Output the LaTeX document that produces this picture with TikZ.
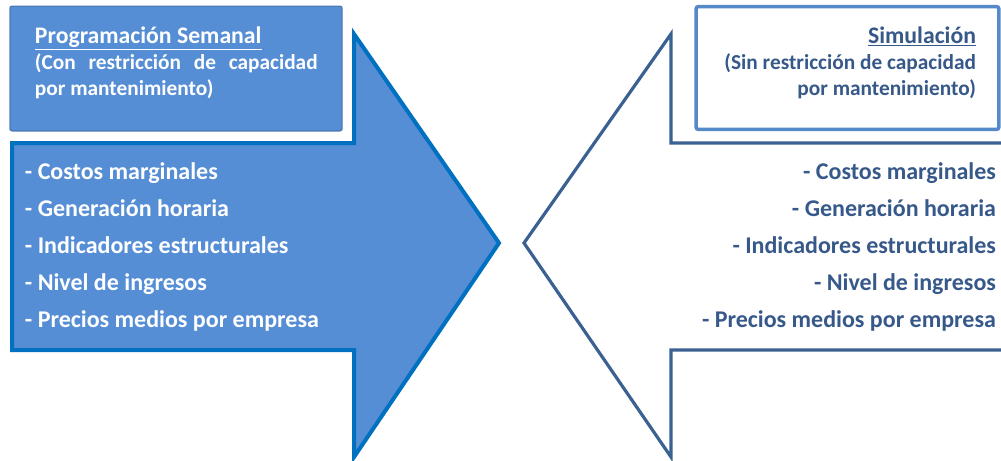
\documentclass[tikz,border=0pt]{standalone}
\usepackage{fontspec}
\setmainfont{Carlito}
\definecolor{progfill}{HTML}{558ED5}
\definecolor{progedge}{HTML}{0070C0}
\definecolor{progbox}{HTML}{4A7EBB}
\definecolor{simedge}{HTML}{3A6192}
\definecolor{simbox}{HTML}{5689C8}
\definecolor{simtext}{HTML}{36598A}
\begin{document}
\begin{tikzpicture}[x=0.75pt,y=-0.75pt,inner sep=0pt,outer sep=0pt,
titlebox/.style={draw,rectangle,rounded corners=1.5pt,minimum width=249pt,minimum height=93.5pt},
titletext/.style={font=\bfseries\fontsize{16}{19.5}\selectfont},
listtext/.style={font=\bfseries\fontsize{18}{27.75}\selectfont}]
\useasboundingbox (0,0) rectangle (1001,461);

% flechas
\draw[line width=3pt,draw=progedge,fill=progfill,line join=miter]
  (12,143) -- (354,143) -- (354,34) -- (499,243) -- (354,457) -- (354,350) -- (12,350) -- cycle;
\draw[line width=2.4pt,draw=simedge,line join=miter]
  (1004,143) -- (671,143) -- (671,34) -- (524,243) -- (671,457) -- (671,350) -- (1004,350);

% cajas de titulo
\node[titlebox,fill=progfill,draw=progbox,line width=1pt] (progbox) at (176,68.5) {};
\node[titlebox,fill=white,draw=simbox,line width=2.6pt,minimum width=227pt,minimum height=92pt] (simbox) at (847.5,68) {};

\node[titletext,text=white,anchor=north west,align=left] (progtitle) at (35,27)
  {{\fontsize{17.8}{19.5}\selectfont\underline{Programación Semanal}}\\
   \makebox[212pt][s]{(Con restricción de capacidad}\\
   por mantenimiento)};
\node[titletext,text=simtext,anchor=north east,align=right] (simtitle) at (976,27)
  {{\fontsize{17.8}{19.5}\selectfont\underline{Simulación}}\\
   (Sin restricción de capacidad\\
   por mantenimiento)};

% listas
\node[listtext,text=white,anchor=north west,align=left] (proglist) at (25,163)
  {- Costos marginales\\- Generación horaria\\- Indicadores estructurales\\- Nivel de ingresos\\- Precios medios por empresa};
\node[listtext,text=simtext,anchor=north east,align=right] (simlist) at (996,163)
  {- Costos marginales\\- Generación horaria\\- Indicadores estructurales\\- Nivel de ingresos\\- Precios medios por empresa};
\end{tikzpicture}
\end{document}
